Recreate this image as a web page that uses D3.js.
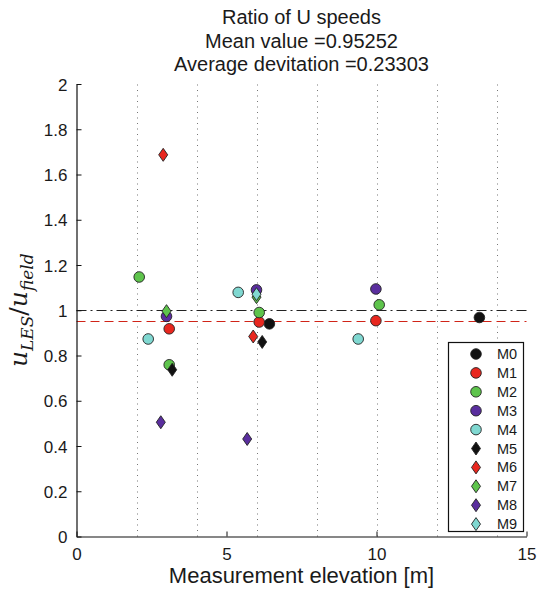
<!DOCTYPE html>
<html><head><meta charset="utf-8">
<script src="https://cdn.jsdelivr.net/npm/d3@7"></script>
<style>body{margin:0;background:#fff;} text{font-family:"Liberation Sans",Arial,sans-serif;fill:#1a1a1a;}</style>
</head><body>
<svg id="c" width="543" height="589"></svg>
<script>
const titleLines = ["Ratio of U speeds", "Mean value =0.95252", "Average devitation =0.23303"];
const meanValue = 0.95252;
const refValue = 1;
const xTicks = [0, 5, 10, 15];
const yTicks = [0, 0.2, 0.4, 0.6, 0.8, 1, 1.2, 1.4, 1.6, 1.8, 2];
const gridX = [2, 4, 6, 8, 10, 12, 14];
const seriesNames = ["M0","M1","M2","M3","M4","M5","M6","M7","M8","M9"];
const seriesShapes = ["circle","circle","circle","circle","circle","diamond","diamond","diamond","diamond","diamond"];
const seriesColors = ["#111111","#e8271f","#5ec44c","#5a2e9e","#80d8d1","#111111","#e8271f","#5ec44c","#5a2e9e","#80d8d1"];
const xM0 = [6.43, 13.43],              yM0 = [0.940, 0.968];
const xM1 = [3.09, 6.09, 9.98],         yM1 = [0.918, 0.948, 0.954];
const xM2 = [2.09, 3.09, 6.09, 10.09],  yM2 = [1.147, 0.759, 0.990, 1.024];
const xM3 = [3.0, 6.0, 9.98],           yM3 = [0.973, 1.090, 1.094];
const xM4 = [2.39, 5.39, 9.39],         yM4 = [0.873, 1.079, 0.873];
const xM5 = [3.19, 6.19],               yM5 = [0.737, 0.860];
const xM6 = [2.89, 5.89],               yM6 = [1.687, 0.884];
const xM7 = [3.0, 6.0],                 yM7 = [0.996, 1.058];
const xM8 = [2.81, 5.69],               yM8 = [0.505, 0.431];
const xM9 = [6.0],                      yM9 = [1.071];
const xs = [xM0,xM1,xM2,xM3,xM4,xM5,xM6,xM7,xM8,xM9];
const ys = [yM0,yM1,yM2,yM3,yM4,yM5,yM6,yM7,yM8,yM9];

const svg = d3.select("#c");
const L = 76.5, R = 526.5, T = 84, B = 536.5;
const x = d3.scaleLinear().domain([0, 15]).range([L, R]);
const y = d3.scaleLinear().domain([0, 2]).range([B, T]);

// title
svg.append("g").selectAll("text").data(titleLines).join("text")
  .attr("x", (L + R) / 2).attr("y", (d, i) => 24 + i * 23.5)
  .attr("text-anchor", "middle").style("font-size", "20px").text(d => d);

// vertical dotted grid
svg.append("g").selectAll("line").data(gridX).join("line")
  .attr("x1", d => Math.round(x(d)) + 0.5).attr("x2", d => Math.round(x(d)) + 0.5).attr("y1", y(0)).attr("y2", y(2))
  .attr("stroke", "#777").attr("stroke-width", 1).attr("stroke-dasharray", "1,4.5");

// reference lines
const yr = Math.round(y(refValue)) + 0.5, ym = Math.round(y(meanValue)) + 0.5;
svg.append("line").attr("x1", x(0)).attr("x2", x(15)).attr("y1", yr).attr("y2", yr)
  .attr("stroke", "#222").attr("stroke-width", 1).attr("stroke-dasharray", "10,4,2,4");
svg.append("line").attr("x1", x(0)).attr("x2", x(15)).attr("y1", ym).attr("y2", ym)
  .attr("stroke", "#d02418").attr("stroke-width", 1).attr("stroke-dasharray", "9,5");

// axes
const yAxis = d3.axisLeft(y).tickValues(yTicks).tickSizeInner(-5).tickSizeOuter(0).tickPadding(9)
  .tickFormat(d => String(+d.toFixed(1)));
const gy = svg.append("g").attr("transform", `translate(${L},0)`).call(yAxis);
const xAxis = d3.axisBottom(x).tickValues(xTicks).tickSizeInner(-5).tickSizeOuter(0).tickPadding(11);
const gx = svg.append("g").attr("transform", `translate(0,${B})`).call(xAxis);
[gx, gy].forEach(g => {
  g.select(".domain").attr("stroke", "#111").attr("stroke-width", 1.2);
  g.selectAll(".tick line").attr("stroke", "#111");
  g.selectAll(".tick text").style("font-size", "17px").attr("fill", "#1a1a1a")
   .style("font-family", '"Liberation Sans",Arial,sans-serif');
});
gy.selectAll(".tick text").attr("dy", "0.36em");

// axis labels
svg.append("text").attr("x", (L + R) / 2).attr("y", 583).attr("text-anchor", "middle")
  .style("font-size", "22px").text("Measurement elevation [m]");
const yl = svg.append("text").attr("transform", `translate(27,${(T + B) / 2}) rotate(-90)`)
  .attr("text-anchor", "middle")
  .style("font-family", '"DejaVu Serif","Liberation Serif",serif').style("font-style", "italic");
yl.append("tspan").style("font-size", "25px").text("u");
yl.append("tspan").style("font-size", "17px").attr("dy", 6).text("LES");
yl.append("tspan").style("font-size", "25px").attr("dy", -6).style("font-style", "normal").text("/");
yl.append("tspan").style("font-size", "25px").text("u");
yl.append("tspan").style("font-size", "17px").attr("dy", 6).text("field");

// markers
const diamond = "M0,-6.5L4.5,0L0,6.5L-4.5,0Z";
function drawMarker(g, shape, color) {
  if (shape === "circle") {
    g.append("circle").attr("r", 5.3).attr("fill", color).attr("stroke", "#222").attr("stroke-width", 0.9);
  } else {
    g.append("path").attr("d", diamond).attr("fill", color).attr("stroke", "#222").attr("stroke-width", 0.9);
  }
}
seriesNames.forEach((name, i) => {
  const pts = xs[i].map((v, k) => [v, ys[i][k]]);
  svg.append("g").selectAll("g").data(pts).join("g")
    .attr("transform", d => `translate(${x(d[0])},${y(d[1])})`)
    .each(function () { drawMarker(d3.select(this), seriesShapes[i], seriesColors[i]); });
});

// legend
const lg = svg.append("g");
lg.append("rect").attr("x", 448.5).attr("y", 342.5).attr("width", 75).attr("height", 189)
  .attr("fill", "#fff").attr("stroke", "#111").attr("stroke-width", 1.2);
seriesNames.forEach((name, i) => {
  const cy = 354 + i * 18.9;
  const g = lg.append("g").attr("transform", `translate(476,${cy})`);
  drawMarker(g, seriesShapes[i], seriesColors[i]);
  lg.append("text").attr("x", 497).attr("y", cy + 5).style("font-size", "14.5px").text(name);
});
</script>
</body></html>
